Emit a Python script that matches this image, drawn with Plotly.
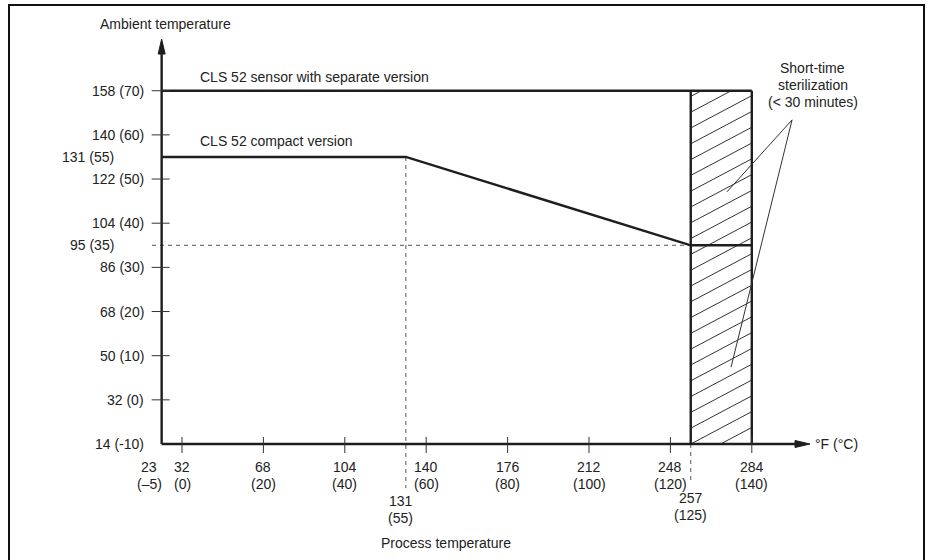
import plotly.graph_objects as go

# ---------------- data (all in °C) ----------------
sensor_x = [-5, 140]            # CLS 52 sensor with separate version
sensor_y = [70, 70]
compact_x = [-5, 55, 125, 140]  # CLS 52 compact version
compact_y = [55, 55, 35, 35]
steril_x = [125, 140]           # short-time sterilization band
steril_y = [-10, 70]

x_ticks = [0, 20, 40, 60, 80, 100, 120, 140]
x_tick_labels = ["32<br>(0)", "68<br>(20)", "104<br>(40)", "140<br>(60)",
                 "176<br>(80)", "212<br>(100)", "248<br>(120)", "284<br>(140)"]
y_ticks = [0, 10, 20, 30, 40, 50, 60, 70]
y_tick_labels = ["32 (0)", "50 (10)", "68 (20)", "86 (30)",
                 "104 (40)", "122 (50)", "140 (60)", "158 (70)"]
x_origin, y_origin = -5, -10
x_origin_label = "23<br>(–5)"
y_origin_label = "14 (-10)"
x_marks = [55, 125]
x_mark_labels = ["131<br>(55)", "257<br>(125)"]
y_marks = [55, 35]
y_mark_labels = ["131 (55)", "95 (35)"]
x_axis_end = 154.3
y_axis_end = 81.7

# ---------------- styling ----------------
FONT = "Liberation Sans, Arial, Helvetica, sans-serif"
FS = 14
TXT = "#222222"
LINE = "#1e1e1e"
PXX = 4.07    # px per °C horizontally
PXY = 4.416   # px per °C vertically
LH = 17       # px between text lines
x_range = [-182 / PXX, (927 - 182) / PXX]
y_range = [-10 - 116 / PXY, 444 / PXY - 10]

fig = go.Figure()

def seg(xs, ys, width=2, color=LINE, dash=None):
    fig.add_trace(go.Scatter(x=xs, y=ys, mode="lines", hoverinfo="skip",
                             line=dict(color=color, width=width, dash=dash)))

# hatch lines inside the sterilization band
slope = 0.53 * PXX / PXY
spacing = 15.8 / PXY
hx, hy = [], []
x0, x1 = steril_x
yb, yt = steril_y
for n in range(-6, 30):
    c = yb + n * spacing
    xa = max(x0, x0 + (yb - c) / slope)
    xb = min(x1, x0 + (yt - c) / slope)
    if xb - xa > 0.05:
        hx += [xa, xb, None]
        hy += [c + slope * (xa - x0), c + slope * (xb - x0), None]
seg(hx, hy, width=1, color="#333333")

# dashed guide lines
dash_below = [-20, -18.8]
seg([x_marks[0], x_marks[0]], [compact_y[1], dash_below[0]], width=1, color="#555555", dash="4px,4px")
seg([x_marks[1], x_marks[1]], [y_origin, dash_below[1]], width=1, color="#555555", dash="4px,4px")
seg([-7.37, x_marks[1]], [y_marks[1], y_marks[1]], width=1, color="#555555", dash="4px,4px")

# band outline
seg([steril_x[0], steril_x[0]], steril_y, width=2.4)
seg([steril_x[1], steril_x[1]], steril_y, width=2.4)

# curves
seg(sensor_x, sensor_y, width=2.4)
seg(compact_x, compact_y, width=2.4)

# axes
seg([x_origin, x_origin], [y_origin, y_axis_end - 3], width=2.4)
seg([x_origin, x_axis_end - 3], [y_origin, y_origin], width=2.4)
hw_y = 3.5 / PXX
fig.add_trace(go.Scatter(x=[x_origin - hw_y, x_origin + hw_y, x_origin, x_origin - hw_y],
                         y=[y_axis_end - 15 / PXY, y_axis_end - 15 / PXY, y_axis_end, y_axis_end - 15 / PXY],
                         mode="lines", fill="toself", fillcolor=LINE,
                         line=dict(color=LINE, width=1), hoverinfo="skip"))
hw_x = 3.5 / PXY
fig.add_trace(go.Scatter(x=[x_axis_end - 15 / PXX, x_axis_end - 15 / PXX, x_axis_end, x_axis_end - 15 / PXX],
                         y=[y_origin - hw_x, y_origin + hw_x, y_origin, y_origin - hw_x],
                         mode="lines", fill="toself", fillcolor=LINE,
                         line=dict(color=LINE, width=1), hoverinfo="skip"))

# tick marks
tx, ty = [], []
for v in x_ticks:
    tx += [v, v, None]
    ty += [y_origin + 7 / PXY, y_origin - 9 / PXY, None]
seg(tx, ty, width=1, color="#333333")
tx, ty = [], []
for v in y_ticks:
    tx += [x_origin - 10 / PXX, x_origin + 8 / PXX, None]
    ty += [v, v, None]
seg(tx, ty, width=1, color="#333333")

# leader lines of the note
lead_start = (149.9, 63.4)
lead_ends = [(133.9, 47.1), (134.9, 7.4)]
for ex, ey in lead_ends:
    seg([lead_start[0], ex], [lead_start[1], ey], width=1, color="#333333")

ann = []
def text(x, y, t, xa="center"):
    lines = t.split("<br>")
    n = len(lines)
    for i, ln in enumerate(lines):
        yy = y - (i - (n - 1) / 2) * LH / PXY
        ann.append(dict(x=x, y=yy, xref="x", yref="y", text=ln, showarrow=False,
                        xanchor=xa, yanchor="middle",
                        font=dict(family=FONT, size=FS, color=TXT)))

lab_x = -8.8
for v, t in zip(y_ticks, y_tick_labels):
    text(lab_x, v, t, xa="right")
text(lab_x, y_origin, y_origin_label, xa="right")
for v, t in zip(y_marks, y_mark_labels):
    text(-16.3, v, t, xa="right")

lab_y = -17.13
for v, t in zip(x_ticks, x_tick_labels):
    text(v, lab_y, t)
text(-8.05, lab_y, x_origin_label)
text(x_marks[0] - 1.2, -24.9, x_mark_labels[0])
text(x_marks[1], -24.15, x_mark_labels[1])

text(-4.06, 85.1, "Ambient temperature")
text(64.9, -32.4, "Process temperature")
text(155.0, y_origin, "°F (°C)", xa="left")
text(3.9, 73.1, "CLS 52 sensor with separate version", xa="left")
text(3.9, 58.6, "CLS 52 compact version", xa="left")
text(155.0, 71.3, "Short-time<br>sterilization<br>(&lt; 30 minutes)")

fig.update_layout(
    width=927, height=560,
    margin=dict(l=0, r=0, t=0, b=0),
    paper_bgcolor="white", plot_bgcolor="white",
    showlegend=False,
    annotations=ann,
    xaxis=dict(visible=False, range=x_range, fixedrange=True),
    yaxis=dict(visible=False, range=y_range, fixedrange=True),
    shapes=[dict(type="rect", xref="paper", yref="paper",
                 x0=9 / 927, x1=924 / 927, y0=-0.2, y1=1 - 5 / 560,
                 line=dict(color="#111111", width=2), layer="above")],
    font=dict(family=FONT, size=FS, color=TXT),
)

fig.write_html("out.html", config={"displayModeBar": False},
               post_script="document.body.style.margin='0';")
